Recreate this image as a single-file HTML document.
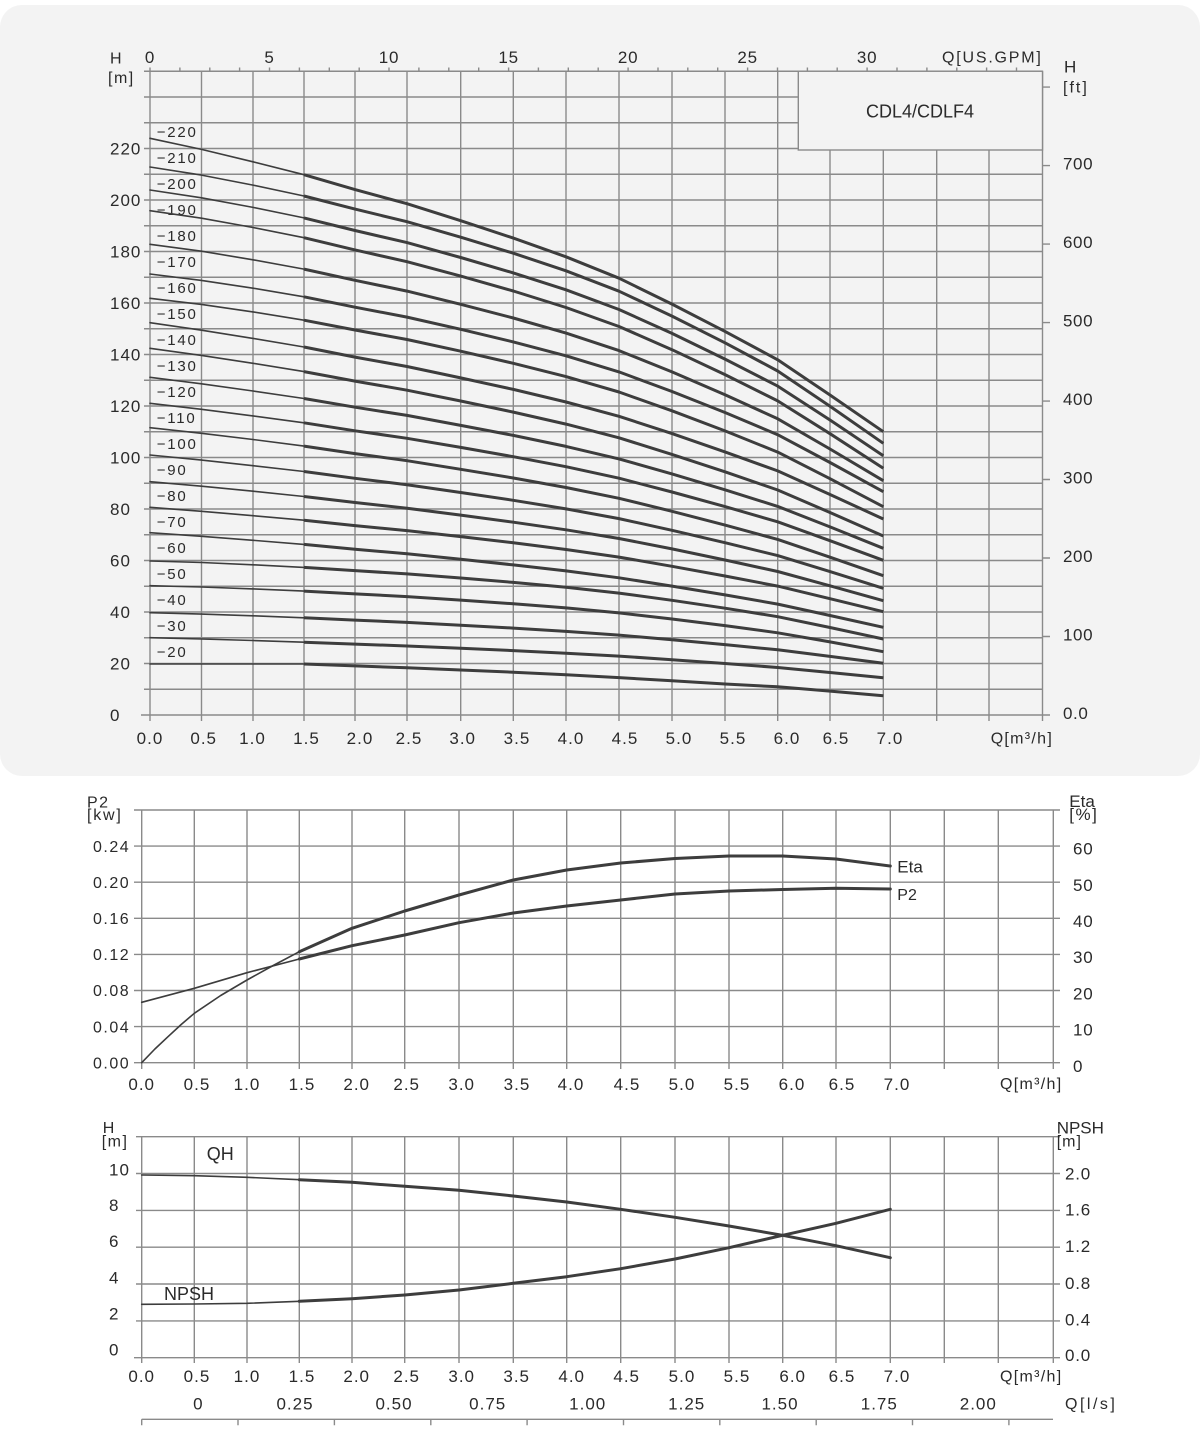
<!DOCTYPE html>
<html><head><meta charset="utf-8"><style>
html,body{margin:0;padding:0;background:#fff;}
svg{display:block;}
text{font-family:"Liberation Sans",sans-serif;fill:#2a2a2a;}
</style></head><body>
<svg width="1200" height="1452" viewBox="0 0 1200 1452" xmlns="http://www.w3.org/2000/svg">
<rect x="0" y="0" width="1200" height="1452" fill="#fff"/>
<rect x="0" y="5" width="1200" height="771" rx="22" ry="22" fill="#f3f3f3"/>

<!-- ===== TOP CHART GRID ===== -->
<g stroke="#8a8a8a" stroke-width="1.4" fill="none">
<path d="M141 715H1042.5 M144 689.25H1042.5 M144 663.5H1042.5 M144 637.75H1042.5 M144 612H1042.5 M144 586.25H1042.5 M144 560.5H1042.5 M144 534.75H1042.5 M144 509H1042.5 M144 483.25H1042.5 M144 457.5H1042.5 M144 431.75H1042.5 M144 406H1042.5 M144 380.25H1042.5 M144 354.5H1042.5 M144 328.75H1042.5 M144 303H1042.5 M144 277.25H1042.5 M144 251.5H1042.5 M144 225.75H1042.5 M144 200H1042.5 M144 174.25H1042.5 M144 148.5H1042.5 M144 122.75H798 M144 97H798 M144 71.25H1042.5"/>
<path d="M150 67.5V721 M201.5 71.25V721 M253 71.25V721 M304 71.25V721 M355 71.25V721 M407 71.25V721 M460.7 71.25V721 M513.3 71.25V721 M566 71.25V721 M619 71.25V721 M672 71.25V721 M725 71.25V721 M777.7 71.25V721 M830 150V721 M883.3 150V721 M936.7 150V721 M989 150V721 M1042.5 71.25V721"/>
<path d="M179.9 67.5v3.8 M209.8 67.5v3.8 M239.6 67.5v3.8 M269.5 67.5v3.8 M299.4 67.5v3.8 M329.3 67.5v3.8 M359.2 67.5v3.8 M389 67.5v3.8 M418.9 67.5v3.8 M448.8 67.5v3.8 M478.7 67.5v3.8 M508.6 67.5v3.8 M538.4 67.5v3.8 M568.3 67.5v3.8 M598.2 67.5v3.8 M628.1 67.5v3.8 M658 67.5v3.8 M687.8 67.5v3.8 M717.7 67.5v3.8 M747.6 67.5v3.8 M777.5 67.5v3.8 M807.4 67.5v3.8 M837.2 67.5v3.8 M867.1 67.5v3.8 M897 67.5v3.8 M926.9 67.5v3.8 M956.8 67.5v3.8 M986.6 67.5v3.8 M1016.5 67.5v3.8"/>
<path d="M1042.5 715h7.5 M1042.5 636.5h7.5 M1042.5 558h7.5 M1042.5 479.5h7.5 M1042.5 401.1h7.5 M1042.5 322.6h7.5 M1042.5 244.1h7.5 M1042.5 165.6h7.5 M1042.5 87.1h7.5"/>
</g>
<rect x="798.3" y="71.25" width="244.2" height="78.75" fill="#f3f3f3" stroke="#8a8a8a" stroke-width="1.4"/>
<text x="920" y="117.6" font-size="18" text-anchor="middle">CDL4/CDLF4</text>

<!-- top axis labels -->
<g font-size="17" text-anchor="middle" letter-spacing="0.8">
<text x="150" y="63">0</text><text x="269.5" y="63">5</text><text x="389" y="63">10</text><text x="508.6" y="63">15</text><text x="628.1" y="63">20</text><text x="747.6" y="63">25</text><text x="867.1" y="63">30</text>
</g>
<text x="942" y="62.5" font-size="16" letter-spacing="1.8">Q[US.GPM]</text>
<text x="110" y="63.3" font-size="16">H</text>
<text x="108" y="83.2" font-size="16" letter-spacing="1.5">[m]</text>
<text x="1064" y="72.4" font-size="17">H</text>
<text x="1063" y="92.7" font-size="16" letter-spacing="2">[ft]</text>

<g font-size="17" letter-spacing="1">
<text x="110" y="721.1">0</text><text x="110" y="669.6">20</text><text x="110" y="618.1">40</text><text x="110" y="566.6">60</text><text x="110" y="515.1">80</text><text x="110" y="463.6">100</text><text x="110" y="412.1">120</text><text x="110" y="360.6">140</text><text x="110" y="309.1">160</text><text x="110" y="257.6">180</text><text x="110" y="206.1">200</text><text x="110" y="154.6">220</text>
</g>
<g font-size="17" letter-spacing="0.6">
<text x="1063" y="719">0.0</text><text x="1063" y="640.6">100</text><text x="1063" y="562.1">200</text><text x="1063" y="483.6">300</text><text x="1063" y="405.2">400</text><text x="1063" y="326.7">500</text><text x="1063" y="248.2">600</text><text x="1063" y="169.7">700</text>
</g>
<g font-size="17" text-anchor="middle" letter-spacing="1">
<text x="150" y="744.1">0.0</text><text x="203.7" y="744.1">0.5</text><text x="252.5" y="744.1">1.0</text><text x="306.5" y="744.1">1.5</text><text x="360" y="744.1">2.0</text><text x="409" y="744.1">2.5</text><text x="462.7" y="744.1">3.0</text><text x="517" y="744.1">3.5</text><text x="571" y="744.1">4.0</text><text x="625" y="744.1">4.5</text><text x="679" y="744.1">5.0</text><text x="733" y="744.1">5.5</text><text x="787" y="744.1">6.0</text><text x="836" y="744.1">6.5</text><text x="890" y="744.1">7.0</text>
</g>
<text x="990.7" y="743.5" font-size="16" letter-spacing="1.3">Q[m³/h]</text>

<!-- curve labels -->
<g font-size="15" letter-spacing="1.8">
<text x="156.7" y="137.1">−220</text><text x="156.7" y="163.1">−210</text><text x="156.7" y="189.1">−200</text><text x="156.7" y="215.1">−190</text><text x="156.7" y="241.1">−180</text><text x="156.7" y="267.1">−170</text><text x="156.7" y="293.1">−160</text><text x="156.7" y="319.1">−150</text><text x="156.7" y="345.1">−140</text><text x="156.7" y="371.1">−130</text><text x="156.7" y="397.1">−120</text><text x="156.7" y="423.1">−110</text><text x="156.7" y="449.1">−100</text><text x="156.7" y="475.1">−90</text><text x="156.7" y="501.1">−80</text><text x="156.7" y="527.1">−70</text><text x="156.7" y="553.1">−60</text><text x="156.7" y="579.1">−50</text><text x="156.7" y="605.1">−40</text><text x="156.7" y="631.1">−30</text><text x="156.7" y="657.1">−20</text>
</g>

<!-- curves thin -->
<g stroke="#3d3d3d" stroke-width="1.6" fill="none" stroke-linejoin="round" stroke-linecap="round">
<path d="M150 138.3L201.5 149.4L253 161.8L304 174.7"/>
<path d="M150 167L201.5 175.1L253 185.1L304 196"/>
<path d="M150 190L201.5 197.8L253 207.4L304 217.9"/>
<path d="M150 210.7L201.5 218.2L253 227.5L304 237.7"/>
<path d="M150 244.3L201.5 251.2L253 259.8L304 269.1"/>
<path d="M150 274L201.5 280.4L253 288.2L304 296.8"/>
<path d="M150 298.3L201.5 304.4L253 311.9L304 320.2"/>
<path d="M150 322.7L201.5 330.2L253 338.4L304 347"/>
<path d="M150 348.3L201.5 355.4L253 363.3L304 371.6"/>
<path d="M150 377.3L201.5 383.8L253 391L304 398.5"/>
<path d="M150 403.3L201.5 409.3L253 415.9L304 422.8"/>
<path d="M150 427.7L201.5 433.3L253 439.5L304 446.1"/>
<path d="M150 455L201.5 460.1L253 465.7L304 471.5"/>
<path d="M150 481.7L201.5 486.2L253 491.2L304 496.5"/>
<path d="M150 507.3L201.5 511.3L253 515.7L304 520.2"/>
<path d="M150 532.7L201.5 536.3L253 540.3L304 544.4"/>
<path d="M150 561L201.5 562.5L253 564.8L304 567.4"/>
<path d="M150 585.7L201.5 587L253 588.9L304 591.1"/>
<path d="M150 612.7L201.5 614.1L253 615.8L304 617.8"/>
<path d="M150 637.7L201.5 639L253 640.5L304 642.2"/>
<path d="M150 664L304 664"/>
</g>
<!-- curves thick -->
<g stroke="#3d3d3d" stroke-width="3" fill="none" stroke-linejoin="round">
<path d="M304 174.7L355 189.6L407 203.7L460.7 220.7L513.3 238.1L566 256.8L619 278.2L672 304.1L725 331.4L777.7 359.8L830 395L883.3 431.7"/>
<path d="M304 196L355 209.1L407 221.7L460.7 237.2L513.3 253.2L566 270.8L619 291.2L672 316.1L725 342.8L777.7 371L830 406.2L883.3 443.3"/>
<path d="M304 217.9L355 230.5L407 242.6L460.7 257.5L513.3 272.9L566 289.8L619 309.5L672 333.4L725 359.1L777.7 386.1L830 420L883.3 455.7"/>
<path d="M304 237.7L355 249.9L407 261.7L460.7 276.1L513.3 291L566 307.5L619 326.5L672 349.7L725 374.6L777.7 400.9L830 433.7L883.3 468.3"/>
<path d="M304 269.1L355 280.3L407 291.1L460.7 304.3L513.3 318L566 333.1L619 350.6L672 371.9L725 394.7L777.7 418.8L830 449L883.3 480.7"/>
<path d="M304 296.8L355 307.2L407 317.1L460.7 329.3L513.3 341.9L566 355.8L619 371.9L672 391.5L725 412.5L777.7 434.7L830 462.5L883.3 491.7"/>
<path d="M304 320.2L355 330L407 339.5L460.7 351.2L513.3 363.3L566 376.6L619 392L672 410.8L725 430.9L777.7 452.1L830 478.7L883.3 506.7"/>
<path d="M304 347L355 357.1L407 366.5L460.7 377.9L513.3 389.4L566 402L619 416.3L672 433.6L725 451.9L777.7 470.9L830 494.5L883.3 519"/>
<path d="M304 371.6L355 381.1L407 390.2L460.7 401L513.3 412.1L566 424.1L619 437.8L672 454.4L725 471.8L777.7 490L830 512.5L883.3 536"/>
<path d="M304 398.5L355 407.2L407 415.4L460.7 425.4L513.3 435.4L566 446.4L619 458.9L672 473.9L725 489.8L777.7 506.4L830 526.9L883.3 548.3"/>
<path d="M304 422.8L355 430.8L407 438.3L460.7 447.4L513.3 456.7L566 466.7L619 478.2L672 492L725 506.6L777.7 521.8L830 540.7L883.3 560.3"/>
<path d="M304 446.1L355 453.6L407 460.7L460.7 469.3L513.3 478L566 487.5L619 498.3L672 511.3L725 525.1L777.7 539.4L830 557.2L883.3 575.7"/>
<path d="M304 471.5L355 478.3L407 484.7L460.7 492.5L513.3 500.3L566 508.9L619 518.6L672 530.3L725 542.7L777.7 555.6L830 571.6L883.3 588.3"/>
<path d="M304 496.5L355 502.5L407 508.2L460.7 515.1L513.3 522.2L566 529.8L619 538.5L672 548.9L725 560L777.7 571.5L830 585.8L883.3 600.7"/>
<path d="M304 520.2L355 525.6L407 530.6L460.7 536.6L513.3 542.8L566 549.5L619 557.1L672 566.3L725 576L777.7 586.1L830 598.7L883.3 611.7"/>
<path d="M304 544.4L355 549.3L407 553.8L460.7 559.3L513.3 564.9L566 570.9L619 577.8L672 586.1L725 594.9L777.7 604.1L830 615.5L883.3 627.3"/>
<path d="M304 567.4L355 570.6L407 573.9L460.7 578L513.3 582.4L566 587.3L619 593.1L672 600.3L725 608.2L777.7 616.7L830 627.5L883.3 639"/>
<path d="M304 591.1L355 593.9L407 596.6L460.7 600.1L513.3 603.8L566 607.9L619 612.9L672 619L725 625.6L777.7 632.8L830 641.9L883.3 651.7"/>
<path d="M304 617.8L355 620.1L407 622.4L460.7 625.2L513.3 628.1L566 631.4L619 635.1L672 639.7L725 644.6L777.7 649.8L830 656.4L883.3 663.3"/>
<path d="M304 642.2L355 644.1L407 646L460.7 648.3L513.3 650.6L566 653.2L619 656.1L672 659.7L725 663.5L777.7 667.5L830 672.5L883.3 677.7"/>
<path d="M304 664L355 665.9L407 667.8L460.7 670L513.3 672.2L566 674.8L619 677.6L672 680.8L725 684L777.7 686.8L830 691.1L883.3 695.7"/>
</g>

<!-- ===== MIDDLE CHART ===== -->
<g stroke="#8a8a8a" stroke-width="1.4" fill="none">
<path d="M134 810H1060 M134 846.1H1060 M134 882.2H1060 M134 918.3H1060 M134 954.4H1060 M134 990.5H1060 M134 1026.6H1060 M134 1062.7H1060"/>
<path d="M141.7 810V1069 M194.3 810V1069 M247 810V1069 M299.3 810V1069 M352 810V1069 M404.7 810V1069 M459 810V1069 M513.3 810V1069 M566.7 810V1069 M620.7 810V1069 M675 810V1069 M729 810V1069 M782.7 810V1069 M836 810V1069 M890.3 810V1069 M944.3 810V1069 M998.3 810V1069 M1053.3 810V1069"/>
</g>
<text x="87" y="807.4" font-size="16" letter-spacing="1.5">P2</text>
<text x="87" y="820.2" font-size="16" letter-spacing="1.8">[kw]</text>
<text x="1069.3" y="806.9" font-size="17">Eta</text>
<text x="1069.3" y="820" font-size="17" letter-spacing="1.5">[%]</text>
<g font-size="16" letter-spacing="1.5">
<text x="93" y="1068.4">0.00</text><text x="93" y="1032.3">0.04</text><text x="93" y="996.2">0.08</text><text x="93" y="960.1">0.12</text><text x="93" y="924">0.16</text><text x="93" y="887.9">0.20</text><text x="93" y="851.8">0.24</text>
</g>
<g font-size="17" letter-spacing="0.8">
<text x="1073" y="854.4">60</text><text x="1073" y="891.1">50</text><text x="1073" y="926.8">40</text><text x="1073" y="962.8">30</text><text x="1073" y="999.4">20</text><text x="1073" y="1035.4">10</text><text x="1073" y="1071.8">0</text>
</g>
<g font-size="17" text-anchor="middle" letter-spacing="1">
<text x="141.7" y="1090.1">0.0</text><text x="197" y="1090.1">0.5</text><text x="247" y="1090.1">1.0</text><text x="302" y="1090.1">1.5</text><text x="356.7" y="1090.1">2.0</text><text x="406.7" y="1090.1">2.5</text><text x="461.7" y="1090.1">3.0</text><text x="517" y="1090.1">3.5</text><text x="571" y="1090.1">4.0</text><text x="627" y="1090.1">4.5</text><text x="682" y="1090.1">5.0</text><text x="737" y="1090.1">5.5</text><text x="792" y="1090.1">6.0</text><text x="842" y="1090.1">6.5</text><text x="897" y="1090.1">7.0</text>
</g>
<text x="1000" y="1089" font-size="16" letter-spacing="1.3">Q[m³/h]</text>
<text x="897.3" y="872.4" font-size="17">Eta</text>
<text x="897.3" y="900.2" font-size="16">P2</text>
<g stroke="#3d3d3d" fill="none" stroke-linejoin="round" stroke-linecap="round">
<path stroke-width="1.6" d="M141.7 1062.7L154.9 1049L168 1036.7L181.2 1024.5L194.3 1013.3L220.7 995.5L247 980L273.2 965.5L299.3 951.7"/>
<path stroke-width="3" d="M299.3 951.7L352 928.3L404.7 911L459 895L513.3 880L566.7 870L620.7 863L675 858.5L729 856L782.7 856L836 859L890.3 866"/>
<path stroke-width="1.6" d="M141.7 1002.3L194.3 988.3L247 972.7L299.3 959"/>
<path stroke-width="3" d="M299.3 959L352 945.7L404.7 935L459 922.7L513.3 913L566.7 906L620.7 900L675 894L729 891L782.7 889.5L836 888.3L890.3 889"/>
</g>

<!-- ===== BOTTOM CHART ===== -->
<g stroke="#8a8a8a" stroke-width="1.4" fill="none">
<path d="M136 1136.7H1060 M136 1173.5H1060 M136 1210.4H1060 M136 1247.2H1060 M136 1284H1060 M136 1320.9H1060 M134 1357.7H1060"/>
<path d="M141.7 1136.7V1363 M194.3 1136.7V1363 M247 1136.7V1363 M299.3 1136.7V1363 M352 1136.7V1363 M404.7 1136.7V1363 M459 1136.7V1363 M513.3 1136.7V1363 M566.7 1136.7V1363 M620.7 1136.7V1363 M675 1136.7V1363 M729 1136.7V1363 M782.7 1136.7V1363 M836 1136.7V1363 M890.3 1136.7V1363 M944.3 1136.7V1363 M998.3 1136.7V1363 M1053.3 1136.7V1363"/>
<path d="M141.7 1419.3H1053 M141.7 1419.3v6 M238 1419.3v6 M334.4 1419.3v6 M430.8 1419.3v6 M527.1 1419.3v6 M623.5 1419.3v6 M719.8 1419.3v6 M816.2 1419.3v6 M912.5 1419.3v6 M1008.9 1419.3v6"/>
</g>
<text x="102.7" y="1133.2" font-size="16">H</text>
<text x="101.7" y="1146.7" font-size="16" letter-spacing="1.5">[m]</text>
<text x="1056.7" y="1133.6" font-size="17">NPSH</text>
<text x="1056.7" y="1146.5" font-size="16" letter-spacing="1">[m]</text>
<g font-size="17" letter-spacing="1">
<text x="109" y="1175.4">10</text><text x="109" y="1211.1">8</text><text x="109" y="1247.1">6</text><text x="109" y="1283.4">4</text><text x="109" y="1319.4">2</text><text x="109" y="1355.4">0</text>
</g>
<g font-size="17" letter-spacing="0.8">
<text x="1065" y="1179.4">2.0</text><text x="1065" y="1215.4">1.6</text><text x="1065" y="1252.1">1.2</text><text x="1065" y="1288.8">0.8</text><text x="1065" y="1325.4">0.4</text><text x="1065" y="1361.1">0.0</text>
</g>
<g font-size="17" text-anchor="middle" letter-spacing="1">
<text x="141.7" y="1382">0.0</text><text x="197" y="1382">0.5</text><text x="247" y="1382">1.0</text><text x="302" y="1382">1.5</text><text x="356.7" y="1382">2.0</text><text x="406.7" y="1382">2.5</text><text x="461.7" y="1382">3.0</text><text x="516.7" y="1382">3.5</text><text x="571.7" y="1382">4.0</text><text x="626.7" y="1382">4.5</text><text x="682" y="1382">5.0</text><text x="737" y="1382">5.5</text><text x="792.7" y="1382">6.0</text><text x="842" y="1382">6.5</text><text x="897" y="1382">7.0</text>
</g>
<text x="1000" y="1381.7" font-size="16" letter-spacing="1.3">Q[m³/h]</text>
<g font-size="17" text-anchor="middle" letter-spacing="1">
<text x="198.3" y="1409.4">0</text><text x="295" y="1409.4">0.25</text><text x="394" y="1409.4">0.50</text><text x="487.7" y="1409.4">0.75</text><text x="587.7" y="1409.4">1.00</text><text x="686.7" y="1409.4">1.25</text><text x="780" y="1409.4">1.50</text><text x="879.3" y="1409.4">1.75</text><text x="978.3" y="1409.4">2.00</text>
</g>
<text x="1065" y="1409" font-size="16" letter-spacing="2.5">Q[l/s]</text>
<text x="206.7" y="1160.2" font-size="18">QH</text>
<text x="164" y="1299.8" font-size="18">NPSH</text>
<g stroke="#3d3d3d" fill="none" stroke-linejoin="round" stroke-linecap="round">
<path stroke-width="1.6" d="M141.7 1175L194.3 1175.7L247 1177.3L299.3 1179.7"/>
<path stroke-width="3" d="M299.3 1179.7L352 1182.3L404.7 1186.3L459 1190.3L513.3 1196L566.7 1202L620.7 1209.3L675 1217.3L729 1226L782.7 1235.3L836 1245.7L890.3 1257.7"/>
<path stroke-width="1.6" d="M141.7 1304.3L194.3 1304L247 1303.3L299.3 1301.3"/>
<path stroke-width="3" d="M299.3 1301.3L352 1298.7L404.7 1295L459 1290L513.3 1283.3L566.7 1276.7L620.7 1268.7L675 1259L729 1247.7L782.7 1235.3L836 1223.3L890.3 1209.3"/>
</g>
</svg>
</body></html>
